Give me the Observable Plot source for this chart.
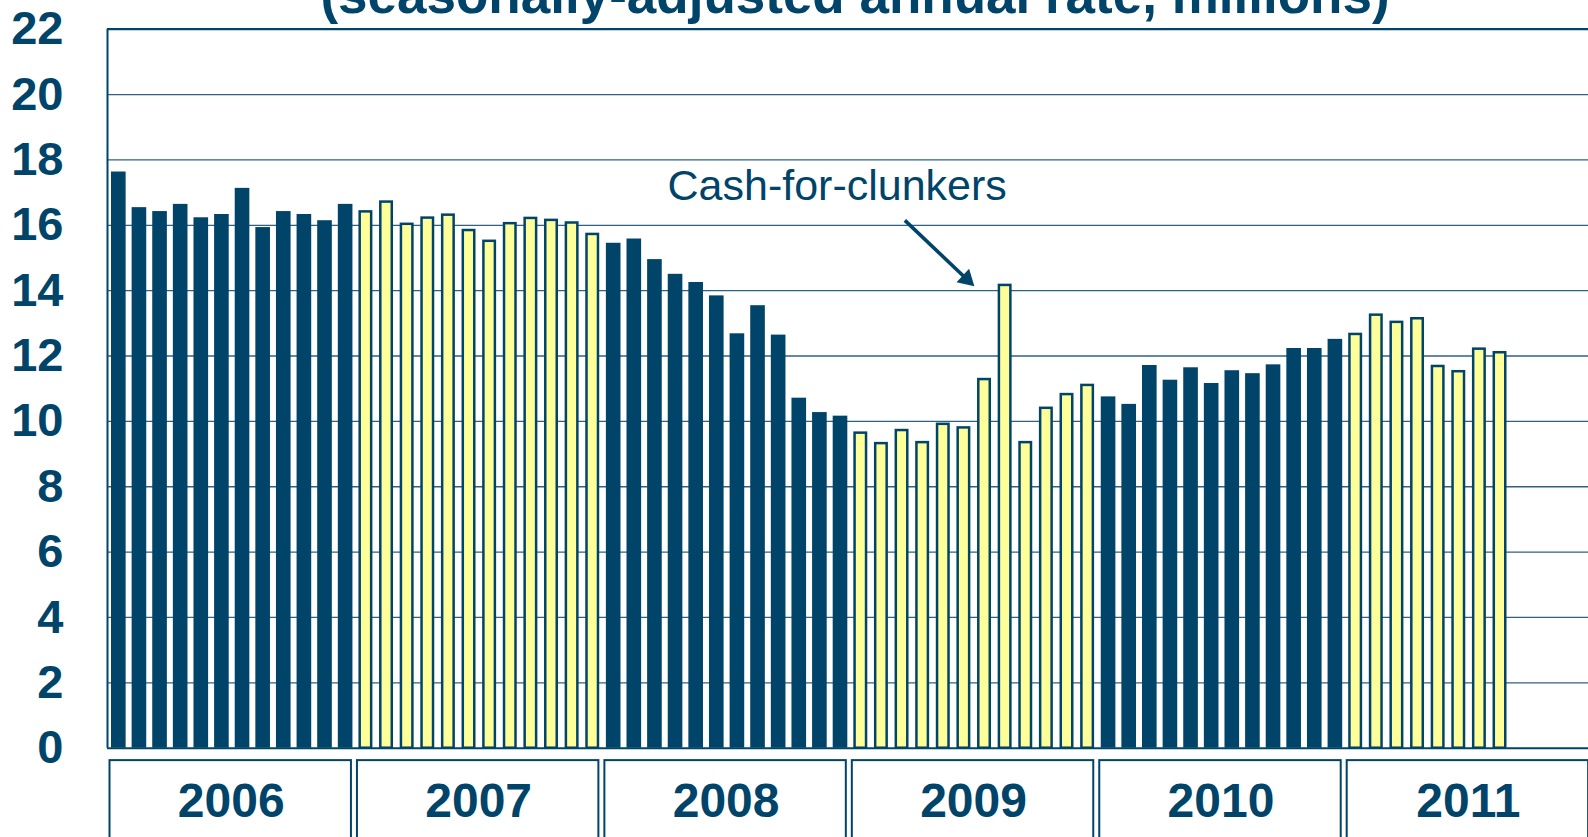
<!DOCTYPE html>
<html>
<head>
<meta charset="utf-8">
<script src="https://cdn.jsdelivr.net/npm/d3@7"></script>
<script src="https://cdn.jsdelivr.net/npm/@observablehq/plot@0.6"></script>
<style>
  html, body { margin: 0; padding: 0; background: #fff; overflow: hidden; }
  #wrap { position: relative; width: 1588px; height: 837px; overflow: hidden; }
  #title {
    position: absolute; left: 855px; top: -32px; transform: translateX(-50%);
    white-space: nowrap; font-family: "Liberation Sans", Arial, sans-serif;
    font-weight: bold; font-size: 53px; line-height: 53px; color: #00446A;
  }
  #chart { position: absolute; left: 0; top: 0; }
</style>
</head>
<body>
<div id="wrap">
  <div id="chart"></div>
  <div id="title"></div>
</div>
<script>
const title = "(seasonally-adjusted annual rate, millions)";
const years = [2006, 2007, 2008, 2009, 2010, 2011];
const sales2006 = [17.63, 16.54, 16.42, 16.64, 16.23, 16.33, 17.13, 15.93, 16.42, 16.33, 16.14, 16.64];
const sales2007 = [16.41, 16.71, 16.03, 16.22, 16.31, 15.84, 15.51, 16.05, 16.21, 16.15, 16.07, 15.72];
const sales2008 = [15.45, 15.58, 14.95, 14.50, 14.25, 13.84, 12.68, 13.54, 12.64, 10.71, 10.27, 10.16];
const sales2009 = [9.64, 9.32, 9.72, 9.35, 9.91, 9.80, 11.28, 14.16, 9.35, 10.40, 10.82, 11.10];
const sales2010 = [10.75, 10.52, 11.71, 11.26, 11.64, 11.16, 11.55, 11.46, 11.73, 12.23, 12.23, 12.51];
const sales2011 = [12.66, 13.25, 13.03, 13.14, 11.68, 11.52, 12.21, 12.10];
const yTicks = [0, 2, 4, 6, 8, 10, 12, 14, 16, 18, 20, 22];
const annotationText = "Cash-for-clunkers";
const annotationMonth = "2009-08";

const DARK = "#00446A";
const YELLOW = "#FFFF99";
const FONT = "'Liberation Sans', Arial, sans-serif";

const salesByYear = [sales2006, sales2007, sales2008, sales2009, sales2010, sales2011];
const data = [];
salesByYear.forEach((arr, yi) => {
  arr.forEach((v, m) => {
    data.push({i: yi * 12 + m, year: years[yi], month: m + 1, value: v, odd: yi % 2 === 1});
  });
});
const yearRows = years.map((y, yi) => ({year: String(y), start: yi * 12, end: yi * 12 + 12}));
const target = data.find(d => `${d.year}-${String(d.month).padStart(2, "0")}` === annotationMonth);
// arrow from label toward the top of the highlighted bar
const ax1 = target.i - 4.33, ay1 = target.value + 1.99, ax2 = target.i - 0.96, ay2 = target.value - 0.03;
const shaft = [{x1: ax1, y1: ay1, x2: ax2 - 0.12 * (ax2 - ax1), y2: ay2 - 0.12 * (ay2 - ay1)}];
const tip = [{x: ax2, y: ay2}];

document.getElementById("title").textContent = title;

const monthW = 20.62;
const left = 107;
const chart = Plot.plot({
  width: 1588,
  height: 837,
  marginLeft: left,
  marginRight: 0,
  marginTop: 28.7,
  marginBottom: 89.3,
  style: {fontFamily: FONT, background: "transparent", overflow: "visible"},
  x: {domain: [0, 72], range: [left, left + 72 * monthW], axis: null},
  y: {domain: [0, 22], axis: null},
  marks: [
    Plot.ruleY(yTicks.filter(t => t > 0 && t < 22), {stroke: "#2f6086", strokeWidth: 1.3}),
    Plot.rectY(data.filter(d => !d.odd), {x1: "i", x2: d => d.i + 1, y: "value", fill: DARK, insetLeft: 4, insetRight: 2}),
    Plot.rectY(data.filter(d => d.odd), {x1: "i", x2: d => d.i + 1, y: "value", fill: YELLOW, stroke: DARK, strokeWidth: 2.5, insetLeft: 5.25, insetRight: 3.9}),
    Plot.ruleY([0], {stroke: DARK, strokeWidth: 2}),
    Plot.ruleY([22], {stroke: DARK, strokeWidth: 2.2}),
    Plot.ruleX([0], {y1: 0, y2: 22, stroke: DARK, strokeWidth: 2}),
    Plot.axisY(yTicks, {
      tickSize: 0, tickPadding: 44, fontSize: 47, fontWeight: "bold", fill: DARK, textAnchor: "end"
    }),
    // year boxes beneath the axis
    Plot.rect(yearRows, {x1: "start", x2: "end", y1: -0.38, y2: -3.5, fill: "none", stroke: DARK, strokeWidth: 2, insetLeft: 2.5, insetRight: 3.5}),
    Plot.text(yearRows, {x: d => (d.start + d.end) / 2, y: -1.62, text: "year", fontSize: 48, fontWeight: "bold", fill: DARK, lineAnchor: "middle"}),
    // annotation
    Plot.text([annotationText], {x: target.i - 15.84, y: 17.19, text: d => d, textAnchor: "start", lineAnchor: "middle", fontSize: 43, fill: DARK}),
    Plot.link(shaft, {x1: "x1", y1: "y1", x2: "x2", y2: "y2", stroke: DARK, strokeWidth: 3.6}),
    Plot.dot(tip, {x: "x", y: "y", symbol: "triangle", r: 6.8, fill: DARK, stroke: "none", rotate: 133.3, dx: -7.7, dy: -7.3})
  ]
});
document.getElementById("chart").appendChild(chart);
</script>
</body>
</html>
